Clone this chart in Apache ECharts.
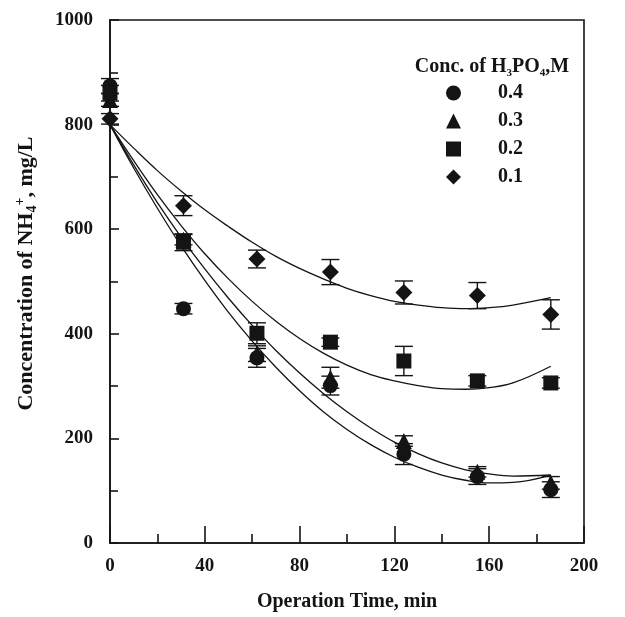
<!DOCTYPE html>
<html><head><meta charset="utf-8">
<script src="https://cdn.jsdelivr.net/npm/echarts@6/dist/echarts.min.js"></script>
<style>html,body{margin:0;padding:0;background:#fff}#c{width:625px;height:617px}</style>
</head><body><div id="c"></div>
<script>
const categories = ['0.4', '0.3', '0.2', '0.1'];
const xTicks = [0, 40, 80, 120, 160, 200];
const yTicks = [0, 200, 400, 600, 800, 1000];
const timePoints = [0, 31, 62, 93, 124, 155, 186];
const conc04 = [874, 448, 354, 301, 170, 127, 102];
const conc03 = [847, 580, 362, 316, 195, 136, 115];
const conc02 = [860, 575, 401, 384, 348, 310, 306];
const conc01 = [811, 645, 543, 518, 479, 473, 437];
const err04 = [14, 10, 18, 18, 20, 15, 15];
const err03 = [12, 10, 15, 20, 10, 10, 12];
const err02 = [15, 16, 20, 8, 28, 10, 10];
const err01 = [10, 19, 17, 24, 22, 25, 28];
const fitTime = [0, 10, 20, 30, 40, 50, 60, 70, 80, 90, 100, 110, 120, 130, 140, 150, 160, 170, 186];
const fit04 = [800, 717, 640, 568, 502, 441, 386, 336, 291, 251, 217, 188, 164, 145, 130, 120, 115, 116, 130];
const fit03 = [800, 723, 651, 585, 524, 468, 416, 368, 325, 286, 251, 220, 193, 171, 153, 140, 132, 128, 130];
const fit02 = [800, 731, 666, 607, 553, 505, 462, 424, 391, 363, 340, 322, 310, 301, 295, 294, 297, 306, 338];
const fit01 = [800, 755, 712, 673, 637, 605, 575, 548, 525, 505, 487, 473, 462, 455, 450, 448, 450, 455, 469];

const FONT = 'Liberation Serif';
const INK = '#141414';
const symbols = ['circle', 'triangle', 'rect', 'diamond'];
const symSizes = [15, 16, 15, 17];
const concs = [conc04, conc03, conc02, conc01];
const errs = [err04, err03, err02, err01];
const fits = [fit04, fit03, fit02, fit01];

function errSeries(vals, es) {
  return {
    type: 'custom', silent: true, z: 3,
    data: timePoints.map((t, i) => [t, vals[i] - es[i], vals[i] + es[i]]),
    encode: {x: 0, y: [1, 2]},
    renderItem(params, api) {
      const x = api.value(0);
      const lo = api.coord([x, api.value(1)]);
      const hi = api.coord([x, api.value(2)]);
      const w = 9;
      const st = {stroke: INK, lineWidth: 1.4};
      return {type: 'group', children: [
        {type: 'line', shape: {x1: lo[0], y1: lo[1], x2: hi[0], y2: hi[1]}, style: st},
        {type: 'line', shape: {x1: lo[0] - w, y1: lo[1], x2: lo[0] + w, y2: lo[1]}, style: st},
        {type: 'line', shape: {x1: hi[0] - w, y1: hi[1], x2: hi[0] + w, y2: hi[1]}, style: st}
      ]};
    }
  };
}

const series = [];
categories.forEach((c, k) => {
  series.push({
    type: 'line', smooth: 0.4, showSymbol: false, silent: true, z: 2,
    data: fitTime.map((t, i) => [t, fits[k][i]]),
    lineStyle: {color: INK, width: 1.3}
  });
  series.push(errSeries(concs[k], errs[k]));
  series.push({
    name: c, type: 'scatter', z: 4,
    symbol: symbols[k], symbolSize: symSizes[k],
    itemStyle: {color: INK, opacity: 1},
    data: timePoints.map((t, i) => [t, concs[k][i]])
  });
});

const labelStyle = {fontFamily: FONT, fontWeight: 'bold', fontSize: 19, color: INK};

const chart = echarts.init(document.getElementById('c'), null, {renderer: 'canvas'});
chart.setOption({
  animation: false,
  backgroundColor: '#fff',
  grid: {left: 110, right: 41, top: 20, bottom: 70, show: true, borderColor: INK, borderWidth: 1.6, backgroundColor: 'transparent'},
  xAxis: {
    type: 'value', min: xTicks[0], max: xTicks[xTicks.length - 1], interval: 40,
    axisLine: {show: true, onZero: false, lineStyle: {color: INK, width: 1.6}},
    axisTick: {show: true, inside: true, length: 17, lineStyle: {color: INK, width: 1.6}},
    minorTick: {show: true, splitNumber: 2, length: 9, lineStyle: {color: INK, width: 1.6}},
    splitLine: {show: false},
    axisLabel: Object.assign({margin: 14, formatter: v => xTicks.includes(v) ? String(v) : ''}, labelStyle),
    name: 'Operation Time, min', nameLocation: 'middle', nameGap: 49,
    nameTextStyle: {fontFamily: FONT, fontWeight: 'bold', fontSize: 20, color: INK}
  },
  yAxis: {
    type: 'value', min: yTicks[0], max: yTicks[yTicks.length - 1], interval: 200,
    axisLine: {show: true, onZero: false, lineStyle: {color: INK, width: 1.6}},
    axisTick: {show: true, inside: true, length: 9, lineStyle: {color: INK, width: 1.6}},
    minorTick: {show: true, splitNumber: 2, length: 8, lineStyle: {color: INK, width: 1.6}},
    splitLine: {show: false},
    axisLabel: Object.assign({margin: 17, formatter: v => yTicks.includes(v) ? String(v) : ''}, labelStyle),
    name: '{a|Concentration of NH}{sub|4}{sup|+}{a|, mg/L}',
    nameLocation: 'middle', nameGap: 71, nameRotate: 90,
    nameTextStyle: {
      fontFamily: FONT, fontWeight: 'bold', fontSize: 22, color: INK,
      padding: [0, 0, 0, 16],
      rich: {
        a: {fontFamily: FONT, fontWeight: 'bold', fontSize: 22, color: INK, lineHeight: 26},
        sub: {fontFamily: FONT, fontWeight: 'bold', fontSize: 14, color: INK, lineHeight: 14, verticalAlign: 'bottom'},
        sup: {fontFamily: FONT, fontWeight: 'bold', fontSize: 14, color: INK, lineHeight: 14, verticalAlign: 'top'}
      }
    }
  },
  legend: {
    data: categories, orient: 'vertical', left: 446, top: 83, padding: 0,
    itemWidth: 15, itemHeight: 15, itemGap: 8,
    itemStyle: {opacity: 1, color: INK},
    textStyle: {fontFamily: FONT, fontWeight: 'bold', fontSize: 20, color: INK, padding: [0, 0, 0, 32]},
    selectedMode: false
  },
  graphic: [{
    type: 'text', x: 492, y: 67,
    style: {
      text: '{a|Conc. of H}{s|3}{a|PO}{s|4}{a|,M}',
      align: 'center', verticalAlign: 'middle',
      rich: {
        a: {fontFamily: FONT, fontWeight: 'bold', fontSize: 20, fill: INK, lineHeight: 24},
        s: {fontFamily: FONT, fontWeight: 'bold', fontSize: 11, fill: INK, lineHeight: 11, verticalAlign: 'bottom'}
      }
    }
  }],
  series: series
});
</script></body></html>
